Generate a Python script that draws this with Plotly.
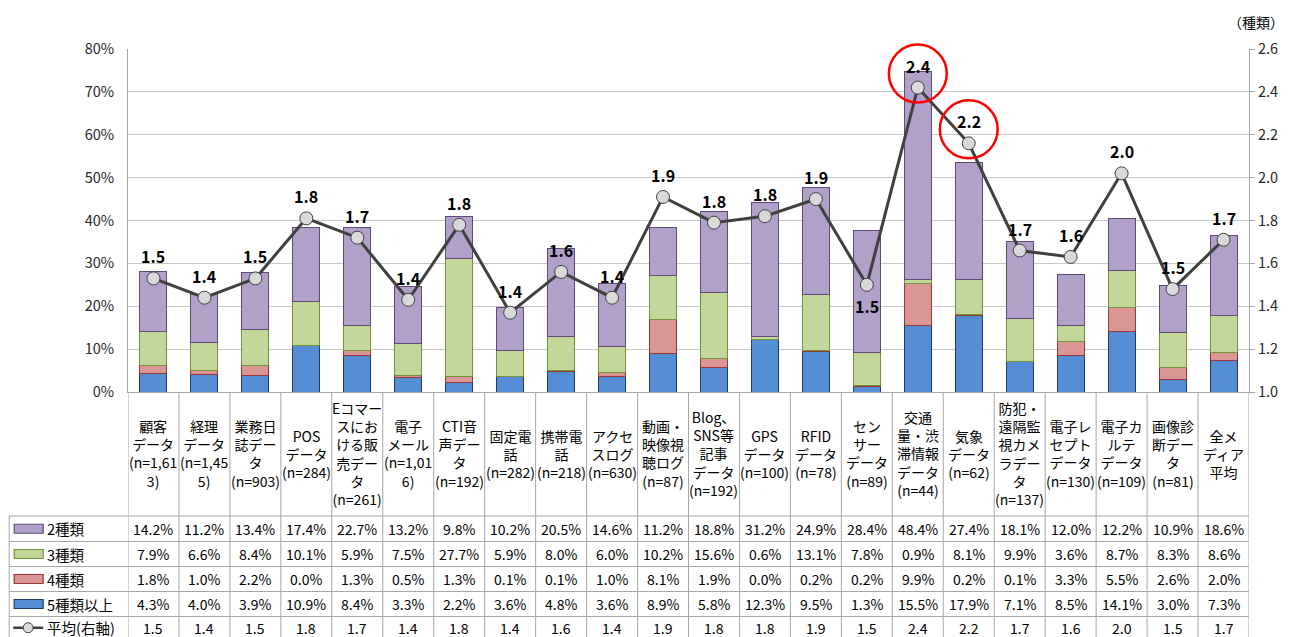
import plotly.graph_objects as go

categories = [
    "顧客<br>データ<br>(n=1,61<br>3)",
    "経理<br>データ<br>(n=1,45<br>5)",
    "業務日<br>誌デー<br>タ<br>(n=903)",
    "POS<br>データ<br>(n=284)",
    "Eコマー<br>スにお<br>ける販<br>売デー<br>タ<br>(n=261)",
    "電子<br>メール<br>(n=1,01<br>6)",
    "CTI音<br>声デー<br>タ<br>(n=192)",
    "固定電<br>話<br>(n=282)",
    "携帯電<br>話<br>(n=218)",
    "アクセ<br>スログ<br>(n=630)",
    "動画・<br>映像視<br>聴ログ<br>(n=87)",
    "Blog、<br>SNS等<br>記事<br>データ<br>(n=192)",
    "GPS<br>データ<br>(n=100)",
    "RFID<br>データ<br>(n=78)",
    "セン<br>サー<br>データ<br>(n=89)",
    "交通<br>量・渋<br>滞情報<br>データ<br>(n=44)",
    "気象<br>データ<br>(n=62)",
    "防犯・<br>遠隔監<br>視カメ<br>ラデー<br>タ<br>(n=137)",
    "電子レ<br>セプト<br>データ<br>(n=130)",
    "電子カ<br>ルテ<br>データ<br>(n=109)",
    "画像診<br>断デー<br>タ<br>(n=81)",
    "全メ<br>ディア<br>平均",
]
two = [14.2, 11.2, 13.4, 17.4, 22.7, 13.2, 9.8, 10.2, 20.5, 14.6, 11.2, 18.8, 31.2, 24.9, 28.4, 48.4, 27.4, 18.1, 12.0, 12.2, 10.9, 18.6]
three = [7.9, 6.6, 8.4, 10.1, 5.9, 7.5, 27.7, 5.9, 8.0, 6.0, 10.2, 15.6, 0.6, 13.1, 7.8, 0.9, 8.1, 9.9, 3.6, 8.7, 8.3, 8.6]
four = [1.8, 1.0, 2.2, 0.0, 1.3, 0.5, 1.3, 0.1, 0.1, 1.0, 8.1, 1.9, 0.0, 0.2, 0.2, 9.9, 0.2, 0.1, 3.3, 5.5, 2.6, 2.0]
five = [4.3, 4.0, 3.9, 10.9, 8.4, 3.3, 2.2, 3.6, 4.8, 3.6, 8.9, 5.8, 12.3, 9.5, 1.3, 15.5, 17.9, 7.1, 8.5, 14.1, 3.0, 7.3]
avg = [1.53, 1.44, 1.53, 1.81, 1.72, 1.43, 1.78, 1.37, 1.56, 1.44, 1.91, 1.79, 1.82, 1.90, 1.50, 2.42, 2.16, 1.66, 1.63, 2.02, 1.48, 1.71]
below_label = [14]          # index whose average label sits below the marker
highlight = [15, 16]        # indices circled in red

series_names = ["2種類", "3種類", "4種類", "5種類以上"]
avg_name = "平均(右軸)"
left_ticks = [0, 10, 20, 30, 40, 50, 60, 70, 80]
right_ticks = [1.0, 1.2, 1.4, 1.6, 1.8, 2.0, 2.2, 2.4, 2.6]

FONT = "Noto Sans CJK JP, Noto Sans, sans-serif"
PAGE_W, PAGE_H = 1290, 637
OFF = 8                                  # default page body margin
W, H = PAGE_W - OFF, PAGE_H - OFF
PL, PR, PT, PB = 128, 1251, 49, 392      # plot area in page pixels

fill = {"2種類": "#B1A0C7", "3種類": "#C4D79B", "4種類": "#DA9694", "5種類以上": "#558ED5"}
edge = {"2種類": "#5F497A", "3種類": "#76923C", "4種類": "#953735", "5種類以上": "#1F3D66"}
values = {"2種類": two, "3種類": three, "4種類": four, "5種類以上": five}


def px_x(px):
    return (px - PL) / (PR - PL)


def px_y(py):
    return (PB - py) / (PB - PT)


n = len(categories)
xs = list(range(n))
fig = go.Figure()

for name in ["5種類以上", "4種類", "3種類", "2種類"]:
    fig.add_trace(go.Bar(
        x=xs, y=values[name], name=name,
        marker=dict(color=fill[name], line=dict(color=edge[name], width=1)),
        hoverinfo="skip",
    ))

fig.add_trace(go.Scatter(
    x=xs, y=avg, yaxis="y2", mode="lines+markers", name=avg_name,
    line=dict(color="#404040", width=3),
    marker=dict(size=13, color="#D9D9D9", line=dict(color="#404040", width=1)),
    hoverinfo="skip",
))

annotations = []
shapes = []

# average labels
for i, v in enumerate(avg):
    annotations.append(dict(
        x=i, y=v, xref="x", yref="y2", text=f"<b>{v:.1f}</b>", showarrow=False,
        yshift=-21 if i in below_label else 22,
        font=dict(family=FONT, size=16, color="#000000"),
    ))

# red circles (paper y so they are not clipped at the plot top)
r0, r1 = right_ticks[0], right_ticks[-1]
ph = PB - PT
for i in highlight:
    cy = (avg[i] - r0) / (r1 - r0) + 14 / ph
    ry = 29 / ph
    rx = 29 / ((PR - PL) / n)
    shapes.append(dict(type="circle", xref="x", yref="paper",
                       x0=i - rx, x1=i + rx, y0=cy - ry, y1=cy + ry,
                       line=dict(color="#FF0000", width=2.5), layer="above"))

# table geometry
TL = 9
header_bottom = 516
row_lines = [516, 541.5, 566.5, 591.5, 616.5, 642]
BORDER = "#A6A6A6"

for k in range(n + 1):
    shapes.append(dict(type="line", xref="x", yref="paper",
                       x0=k - 0.5, x1=k - 0.5, y0=px_y(PB), y1=px_y(650),
                       line=dict(color=BORDER, width=1), layer="above"))
shapes.append(dict(type="line", xref="paper", yref="paper",
                   x0=px_x(TL), x1=px_x(TL), y0=px_y(header_bottom), y1=px_y(650),
                   line=dict(color=BORDER, width=1)))
for ly in row_lines:
    shapes.append(dict(type="line", xref="paper", yref="paper",
                       x0=px_x(TL), x1=px_x(PR), y0=px_y(ly), y1=px_y(ly),
                       line=dict(color=BORDER, width=1)))

for i, c in enumerate(categories):
    annotations.append(dict(
        x=i, y=px_y((PB + header_bottom) / 2), xref="x", yref="paper",
        text=c, showarrow=False, yanchor="middle", xanchor="center",
        font=dict(family=FONT, size=14, color="#000000"),
    ))

rows = [(nm, [f"{v:.1f}%" for v in values[nm]]) for nm in series_names]
rows.append((avg_name, [f"{v:.1f}" for v in avg]))

for r, (nm, texts) in enumerate(rows):
    cy = (row_lines[r] + row_lines[r + 1]) / 2
    if r == len(rows) - 1:
        cy -= 1.5
    for i, t in enumerate(texts):
        annotations.append(dict(
            x=i, y=px_y(cy), xref="x", yref="paper", text=t, showarrow=False,
            yanchor="middle", font=dict(family=FONT, size=14, color="#000000"),
        ))
    annotations.append(dict(
        x=px_x(45), y=px_y(cy), xref="paper", yref="paper", text=nm,
        showarrow=False, xanchor="left", yanchor="middle",
        font=dict(family=FONT, size=14.5, color="#000000"),
    ))
    if nm in fill:
        shapes.append(dict(type="rect", xref="paper", yref="paper",
                           x0=px_x(14), x1=px_x(43), y0=px_y(cy - 4.5), y1=px_y(cy + 4.5),
                           fillcolor=fill[nm], line=dict(color=edge[nm], width=1.2)))
    else:
        shapes.append(dict(type="line", xref="paper", yref="paper",
                           x0=px_x(13), x1=px_x(43), y0=px_y(cy), y1=px_y(cy),
                           line=dict(color="#404040", width=2.5)))
        shapes.append(dict(type="circle", xref="paper", yref="paper",
                           x0=px_x(23), x1=px_x(33), y0=px_y(cy - 5), y1=px_y(cy + 5),
                           fillcolor="#D9D9D9", line=dict(color="#404040", width=1)))

annotations.append(dict(
    x=px_x(1288), y=px_y(22), xref="paper", yref="paper", text="（種類）",
    showarrow=False, xanchor="right", yanchor="middle",
    font=dict(family=FONT, size=14, color="#000000"),
))

fig.update_layout(
    width=W, height=H,
    margin=dict(l=PL - OFF, r=W - (PR - OFF), t=PT - OFF, b=H - (PB - OFF), pad=0),
    barmode="stack", bargap=0.47,
    showlegend=False,
    plot_bgcolor="#FFFFFF", paper_bgcolor="#FFFFFF",
    font=dict(family=FONT, size=14, color="#262626"),
    xaxis=dict(range=[-0.5, n - 0.5], showticklabels=False, ticks="",
               showgrid=False, zeroline=False, showline=True,
               linecolor=BORDER, linewidth=1, fixedrange=True),
    yaxis=dict(range=[0, 80], tickvals=left_ticks,
               ticktext=[f"{t}%" for t in left_ticks],
               showgrid=True, gridcolor="#C8C8C8", gridwidth=1,
               zeroline=False, showline=True, linecolor=BORDER, linewidth=1,
               ticks="", ticklabelstandoff=10,
               tickfont=dict(family=FONT, size=14.5, color="#262626")),
    yaxis2=dict(range=[r0, r1], tickvals=right_ticks,
                ticktext=[f"{t:.1f}" for t in right_ticks],
                overlaying="y", side="right", showgrid=False, zeroline=False,
                showline=True, linecolor=BORDER, linewidth=1,
                ticks="outside", ticklen=5, tickcolor=BORDER,
                tickfont=dict(family=FONT, size=14.5, color="#262626")),
    annotations=annotations,
    shapes=shapes,
)

fig.write_html("out.html")
